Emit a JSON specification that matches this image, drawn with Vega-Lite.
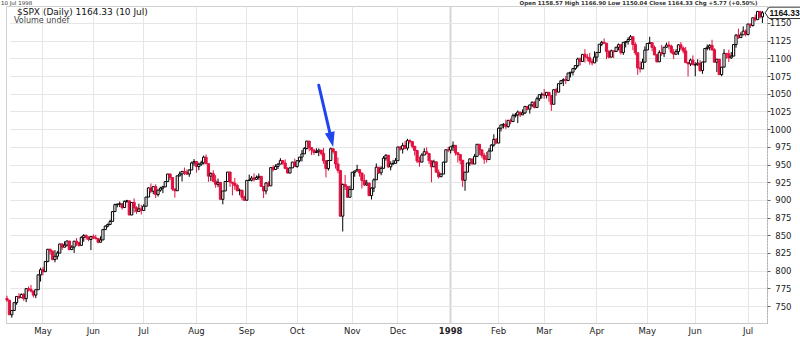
{
"$schema": "https://vega.github.io/schema/vega-lite/v6.json",
"width": 761, "height": 317,
"autosize": {"type": "none"},
"padding": {"left": 6, "top": 6, "right": 33, "bottom": 14},
"background": "white",
"config": {"view": {"stroke": "#d0d0d0"}, "font": "DejaVu Sans", "axis": {"labelOverlap": false}},
"data": {"values": [{}]},
"datasets": {"spx": [
{"d":"1997-04-10","o":760.6,"h":764.5,"l":756.0,"c":758.34},
{"d":"1997-04-11","o":758.3,"h":758.3,"l":737.2,"c":737.65},
{"d":"1997-04-14","o":737.6,"h":743.7,"l":733.5,"c":743.73},
{"d":"1997-04-15","o":743.7,"h":754.7,"l":743.7,"c":754.72},
{"d":"1997-04-16","o":754.7,"h":763.7,"l":751.8,"c":763.53},
{"d":"1997-04-17","o":763.5,"h":768.0,"l":759.8,"c":761.77},
{"d":"1997-04-18","o":761.8,"h":767.9,"l":761.8,"c":766.34},
{"d":"1997-04-21","o":766.3,"h":768.5,"l":757.4,"c":760.37},
{"d":"1997-04-22","o":760.4,"h":774.6,"l":755.4,"c":774.61},
{"d":"1997-04-23","o":774.6,"h":777.6,"l":770.6,"c":773.64},
{"d":"1997-04-24","o":773.6,"h":779.8,"l":769.1,"c":771.18},
{"d":"1997-04-25","o":771.2,"h":771.2,"l":762.0,"c":765.37},
{"d":"1997-04-28","o":765.4,"h":773.5,"l":761.1,"c":772.96},
{"d":"1997-04-29","o":773.0,"h":794.3,"l":773.0,"c":794.05},
{"d":"1997-04-30","o":794.1,"h":804.1,"l":784.5,"c":801.34},
{"d":"1997-05-01","o":801.3,"h":805.3,"l":793.2,"c":798.53},
{"d":"1997-05-02","o":798.5,"h":813.0,"l":798.5,"c":812.97},
{"d":"1997-05-05","o":813.0,"h":830.3,"l":811.8,"c":830.24},
{"d":"1997-05-06","o":830.2,"h":831.0,"l":822.5,"c":827.76},
{"d":"1997-05-07","o":827.8,"h":827.8,"l":814.7,"c":815.62},
{"d":"1997-05-08","o":815.6,"h":829.1,"l":811.8,"c":820.26},
{"d":"1997-05-09","o":820.3,"h":827.9,"l":815.8,"c":824.78},
{"d":"1997-05-12","o":824.8,"h":838.0,"l":824.8,"c":837.66},
{"d":"1997-05-13","o":837.7,"h":838.6,"l":829.3,"c":833.13},
{"d":"1997-05-14","o":833.1,"h":841.3,"l":833.1,"c":836.04},
{"d":"1997-05-15","o":836.0,"h":842.4,"l":834.0,"c":841.88},
{"d":"1997-05-16","o":841.9,"h":841.9,"l":828.9,"c":829.75},
{"d":"1997-05-19","o":829.8,"h":835.9,"l":829.8,"c":833.27},
{"d":"1997-05-20","o":833.3,"h":841.9,"l":825.0,"c":841.66},
{"d":"1997-05-21","o":841.7,"h":846.0,"l":834.9,"c":839.35},
{"d":"1997-05-22","o":839.4,"h":840.8,"l":833.9,"c":835.66},
{"d":"1997-05-23","o":835.7,"h":848.5,"l":835.7,"c":847.03},
{"d":"1997-05-27","o":847.0,"h":851.5,"l":840.9,"c":849.71},
{"d":"1997-05-28","o":849.7,"h":851.3,"l":843.7,"c":847.21},
{"d":"1997-05-29","o":847.2,"h":848.5,"l":841.7,"c":844.08},
{"d":"1997-05-30","o":844.1,"h":848.3,"l":829.1,"c":848.28},
{"d":"1997-06-02","o":848.3,"h":851.3,"l":844.6,"c":846.36},
{"d":"1997-06-03","o":846.4,"h":850.6,"l":844.0,"c":845.48},
{"d":"1997-06-04","o":845.5,"h":845.5,"l":838.6,"c":840.11},
{"d":"1997-06-05","o":840.1,"h":848.5,"l":840.1,"c":843.43},
{"d":"1997-06-06","o":843.4,"h":858.9,"l":843.4,"c":858.01},
{"d":"1997-06-09","o":858.0,"h":864.0,"l":858.0,"c":862.91},
{"d":"1997-06-10","o":862.9,"h":866.6,"l":861.0,"c":865.27},
{"d":"1997-06-11","o":865.3,"h":872.0,"l":864.5,"c":869.57},
{"d":"1997-06-12","o":869.6,"h":884.0,"l":869.6,"c":883.46},
{"d":"1997-06-13","o":883.5,"h":894.7,"l":883.5,"c":893.27},
{"d":"1997-06-16","o":893.3,"h":895.0,"l":889.5,"c":893.90},
{"d":"1997-06-17","o":893.9,"h":897.6,"l":889.8,"c":894.42},
{"d":"1997-06-18","o":894.4,"h":894.4,"l":886.2,"c":889.06},
{"d":"1997-06-19","o":889.1,"h":899.0,"l":889.1,"c":897.99},
{"d":"1997-06-20","o":898.0,"h":900.1,"l":895.8,"c":898.70},
{"d":"1997-06-23","o":898.7,"h":898.7,"l":878.4,"c":878.62},
{"d":"1997-06-24","o":878.6,"h":896.4,"l":878.6,"c":896.34},
{"d":"1997-06-25","o":896.3,"h":902.1,"l":882.0,"c":888.99},
{"d":"1997-06-26","o":889.0,"h":891.0,"l":880.2,"c":883.68},
{"d":"1997-06-27","o":883.7,"h":894.7,"l":883.7,"c":887.30},
{"d":"1997-06-30","o":887.3,"h":893.0,"l":879.3,"c":885.14},
{"d":"1997-07-01","o":885.1,"h":893.9,"l":884.2,"c":891.03},
{"d":"1997-07-02","o":891.0,"h":904.0,"l":891.0,"c":904.03},
{"d":"1997-07-03","o":904.0,"h":917.8,"l":904.0,"c":916.92},
{"d":"1997-07-07","o":916.9,"h":923.3,"l":909.6,"c":912.20},
{"d":"1997-07-08","o":912.2,"h":918.8,"l":908.0,"c":918.75},
{"d":"1997-07-09","o":918.8,"h":922.0,"l":902.5,"c":907.54},
{"d":"1997-07-10","o":907.5,"h":914.5,"l":904.7,"c":913.78},
{"d":"1997-07-11","o":913.8,"h":918.5,"l":911.6,"c":916.68},
{"d":"1997-07-14","o":916.7,"h":920.0,"l":909.5,"c":918.38},
{"d":"1997-07-15","o":918.4,"h":926.2,"l":918.4,"c":925.76},
{"d":"1997-07-16","o":925.8,"h":936.6,"l":925.8,"c":936.59},
{"d":"1997-07-17","o":936.6,"h":937.0,"l":927.9,"c":931.61},
{"d":"1997-07-18","o":931.6,"h":931.6,"l":912.9,"c":915.30},
{"d":"1997-07-21","o":915.3,"h":915.8,"l":903.2,"c":912.94},
{"d":"1997-07-22","o":912.9,"h":934.0,"l":912.9,"c":933.98},
{"d":"1997-07-23","o":934.0,"h":940.0,"l":933.2,"c":936.56},
{"d":"1997-07-24","o":936.6,"h":940.3,"l":926.1,"c":940.30},
{"d":"1997-07-25","o":940.3,"h":945.6,"l":935.2,"c":938.79},
{"d":"1997-07-28","o":938.8,"h":943.0,"l":935.2,"c":936.45},
{"d":"1997-07-29","o":936.5,"h":943.0,"l":932.6,"c":942.29},
{"d":"1997-07-30","o":942.3,"h":954.0,"l":942.3,"c":952.29},
{"d":"1997-07-31","o":952.3,"h":957.7,"l":948.1,"c":954.31},
{"d":"1997-08-01","o":954.3,"h":954.3,"l":938.4,"c":947.14},
{"d":"1997-08-04","o":947.1,"h":952.6,"l":942.0,"c":950.30},
{"d":"1997-08-05","o":950.3,"h":955.4,"l":948.1,"c":952.37},
{"d":"1997-08-06","o":952.4,"h":962.6,"l":950.0,"c":960.32},
{"d":"1997-08-07","o":960.3,"h":964.2,"l":950.6,"c":951.19},
{"d":"1997-08-08","o":951.2,"h":951.2,"l":925.6,"c":933.54},
{"d":"1997-08-11","o":933.5,"h":939.0,"l":926.5,"c":937.00},
{"d":"1997-08-12","o":937.0,"h":942.0,"l":924.8,"c":926.53},
{"d":"1997-08-13","o":926.5,"h":935.0,"l":917.1,"c":922.02},
{"d":"1997-08-14","o":922.0,"h":930.1,"l":918.0,"c":924.77},
{"d":"1997-08-15","o":924.8,"h":924.8,"l":900.8,"c":900.81},
{"d":"1997-08-18","o":900.8,"h":912.6,"l":893.7,"c":912.55},
{"d":"1997-08-19","o":912.6,"h":926.0,"l":912.6,"c":926.01},
{"d":"1997-08-20","o":926.0,"h":939.4,"l":926.0,"c":939.35},
{"d":"1997-08-21","o":939.4,"h":939.4,"l":918.5,"c":925.05},
{"d":"1997-08-22","o":925.1,"h":925.1,"l":906.3,"c":923.54},
{"d":"1997-08-25","o":923.5,"h":930.9,"l":914.2,"c":920.16},
{"d":"1997-08-26","o":920.2,"h":922.8,"l":912.0,"c":913.02},
{"d":"1997-08-27","o":913.0,"h":916.0,"l":906.6,"c":913.70},
{"d":"1997-08-28","o":913.7,"h":913.7,"l":899.5,"c":903.67},
{"d":"1997-08-29","o":903.7,"h":906.0,"l":898.5,"c":899.47},
{"d":"1997-09-02","o":899.5,"h":927.6,"l":899.5,"c":927.58},
{"d":"1997-09-03","o":927.6,"h":935.8,"l":926.6,"c":927.86},
{"d":"1997-09-04","o":927.9,"h":933.7,"l":926.0,"c":930.87},
{"d":"1997-09-05","o":930.9,"h":937.5,"l":925.9,"c":929.05},
{"d":"1997-09-08","o":929.1,"h":934.5,"l":928.2,"c":931.66},
{"d":"1997-09-09","o":931.7,"h":937.3,"l":928.4,"c":933.25},
{"d":"1997-09-10","o":933.3,"h":933.3,"l":918.7,"c":919.03},
{"d":"1997-09-11","o":919.0,"h":919.0,"l":902.6,"c":912.59},
{"d":"1997-09-12","o":912.6,"h":924.9,"l":907.9,"c":923.91},
{"d":"1997-09-15","o":923.9,"h":926.3,"l":918.3,"c":919.77},
{"d":"1997-09-16","o":919.8,"h":945.7,"l":919.8,"c":945.64},
{"d":"1997-09-17","o":945.6,"h":948.9,"l":940.2,"c":943.00},
{"d":"1997-09-18","o":943.0,"h":950.4,"l":943.0,"c":947.29},
{"d":"1997-09-19","o":947.3,"h":951.9,"l":943.5,"c":950.51},
{"d":"1997-09-22","o":950.5,"h":958.9,"l":950.5,"c":955.43},
{"d":"1997-09-23","o":955.4,"h":956.5,"l":949.5,"c":951.93},
{"d":"1997-09-24","o":951.9,"h":957.2,"l":943.4,"c":944.48},
{"d":"1997-09-25","o":944.5,"h":946.2,"l":937.6,"c":937.91},
{"d":"1997-09-26","o":937.9,"h":946.1,"l":937.9,"c":945.22},
{"d":"1997-09-29","o":945.2,"h":953.9,"l":945.2,"c":953.34},
{"d":"1997-09-30","o":953.3,"h":958.3,"l":947.1,"c":947.28},
{"d":"1997-10-01","o":947.3,"h":956.0,"l":945.4,"c":955.41},
{"d":"1997-10-02","o":955.4,"h":960.5,"l":952.9,"c":960.46},
{"d":"1997-10-03","o":960.5,"h":970.4,"l":954.2,"c":965.03},
{"d":"1997-10-06","o":965.0,"h":974.5,"l":965.0,"c":972.69},
{"d":"1997-10-07","o":972.7,"h":983.1,"l":971.2,"c":983.12},
{"d":"1997-10-08","o":983.1,"h":983.1,"l":968.6,"c":973.84},
{"d":"1997-10-09","o":973.8,"h":974.4,"l":963.5,"c":970.62},
{"d":"1997-10-10","o":970.6,"h":970.6,"l":963.4,"c":966.98},
{"d":"1997-10-13","o":967.0,"h":973.0,"l":966.0,"c":968.10},
{"d":"1997-10-14","o":968.1,"h":972.6,"l":961.8,"c":970.28},
{"d":"1997-10-15","o":970.3,"h":970.3,"l":962.8,"c":965.72},
{"d":"1997-10-16","o":965.7,"h":973.4,"l":950.9,"c":955.25},
{"d":"1997-10-17","o":955.3,"h":955.3,"l":931.8,"c":944.16},
{"d":"1997-10-20","o":944.2,"h":955.7,"l":941.4,"c":955.61},
{"d":"1997-10-21","o":955.6,"h":973.9,"l":955.6,"c":972.28},
{"d":"1997-10-22","o":972.3,"h":972.3,"l":965.2,"c":968.49},
{"d":"1997-10-23","o":968.5,"h":968.5,"l":944.2,"c":950.69},
{"d":"1997-10-24","o":950.7,"h":960.0,"l":937.6,"c":941.64},
{"d":"1997-10-27","o":941.6,"h":941.6,"l":876.7,"c":876.99},
{"d":"1997-10-28","o":877.0,"h":923.1,"l":855.3,"c":921.85},
{"d":"1997-10-29","o":921.9,"h":935.2,"l":913.9,"c":919.16},
{"d":"1997-10-30","o":919.2,"h":919.2,"l":903.1,"c":903.68},
{"d":"1997-10-31","o":903.7,"h":919.9,"l":903.7,"c":914.62},
{"d":"1997-11-03","o":914.6,"h":939.0,"l":914.6,"c":938.99},
{"d":"1997-11-04","o":939.0,"h":941.4,"l":932.7,"c":940.76},
{"d":"1997-11-05","o":940.8,"h":949.6,"l":940.8,"c":942.76},
{"d":"1997-11-06","o":942.8,"h":942.9,"l":932.9,"c":938.03},
{"d":"1997-11-07","o":938.0,"h":938.0,"l":916.1,"c":927.51},
{"d":"1997-11-10","o":927.5,"h":935.9,"l":919.5,"c":921.13},
{"d":"1997-11-11","o":921.1,"h":928.3,"l":919.6,"c":923.78},
{"d":"1997-11-12","o":923.8,"h":923.9,"l":905.3,"c":905.96},
{"d":"1997-11-13","o":906.0,"h":917.8,"l":900.6,"c":916.66},
{"d":"1997-11-14","o":916.7,"h":930.4,"l":911.0,"c":928.35},
{"d":"1997-11-17","o":928.4,"h":951.5,"l":928.4,"c":946.20},
{"d":"1997-11-18","o":946.2,"h":946.2,"l":936.6,"c":938.23},
{"d":"1997-11-19","o":938.2,"h":947.3,"l":934.8,"c":944.59},
{"d":"1997-11-20","o":944.6,"h":961.8,"l":944.6,"c":958.98},
{"d":"1997-11-21","o":959.0,"h":964.6,"l":955.4,"c":963.09},
{"d":"1997-11-24","o":963.1,"h":963.1,"l":945.2,"c":946.67},
{"d":"1997-11-25","o":946.7,"h":954.5,"l":941.7,"c":950.82},
{"d":"1997-11-26","o":950.8,"h":956.5,"l":949.6,"c":951.64},
{"d":"1997-11-28","o":951.6,"h":959.1,"l":951.6,"c":955.40},
{"d":"1997-12-01","o":955.4,"h":974.8,"l":955.4,"c":974.77},
{"d":"1997-12-02","o":974.8,"h":976.2,"l":969.8,"c":971.68},
{"d":"1997-12-03","o":971.7,"h":980.8,"l":965.4,"c":976.77},
{"d":"1997-12-04","o":976.8,"h":983.4,"l":971.4,"c":973.10},
{"d":"1997-12-05","o":973.1,"h":986.3,"l":969.9,"c":983.79},
{"d":"1997-12-08","o":983.8,"h":985.7,"l":979.6,"c":982.37},
{"d":"1997-12-09","o":982.4,"h":982.4,"l":972.8,"c":975.78},
{"d":"1997-12-10","o":975.8,"h":975.8,"l":962.7,"c":969.79},
{"d":"1997-12-11","o":969.8,"h":969.8,"l":951.9,"c":954.94},
{"d":"1997-12-12","o":954.9,"h":961.3,"l":947.0,"c":953.39},
{"d":"1997-12-15","o":953.4,"h":965.9,"l":953.4,"c":963.39},
{"d":"1997-12-16","o":963.4,"h":973.0,"l":963.4,"c":968.04},
{"d":"1997-12-17","o":968.0,"h":974.3,"l":964.3,"c":965.54},
{"d":"1997-12-18","o":965.5,"h":965.5,"l":950.6,"c":955.30},
{"d":"1997-12-19","o":955.3,"h":955.3,"l":924.9,"c":946.78},
{"d":"1997-12-22","o":946.8,"h":956.7,"l":946.3,"c":953.70},
{"d":"1997-12-23","o":953.7,"h":954.5,"l":938.9,"c":939.13},
{"d":"1997-12-24","o":939.1,"h":942.9,"l":930.2,"c":932.70},
{"d":"1997-12-26","o":932.7,"h":937.5,"l":932.7,"c":936.46},
{"d":"1997-12-29","o":936.5,"h":953.9,"l":936.5,"c":953.35},
{"d":"1997-12-30","o":953.4,"h":970.8,"l":953.4,"c":970.84},
{"d":"1997-12-31","o":970.8,"h":975.0,"l":967.4,"c":970.43},
{"d":"1998-01-02","o":970.4,"h":975.0,"l":965.7,"c":975.04},
{"d":"1998-01-05","o":975.0,"h":982.6,"l":969.0,"c":977.07},
{"d":"1998-01-06","o":977.1,"h":977.1,"l":962.7,"c":966.58},
{"d":"1998-01-07","o":966.6,"h":966.6,"l":952.7,"c":964.00},
{"d":"1998-01-08","o":964.0,"h":964.0,"l":950.3,"c":956.05},
{"d":"1998-01-09","o":956.0,"h":956.0,"l":918.2,"c":927.69},
{"d":"1998-01-12","o":927.7,"h":939.3,"l":912.8,"c":939.21},
{"d":"1998-01-13","o":939.2,"h":952.2,"l":939.2,"c":952.12},
{"d":"1998-01-14","o":952.1,"h":958.0,"l":948.0,"c":957.94},
{"d":"1998-01-15","o":957.9,"h":957.9,"l":950.0,"c":950.73},
{"d":"1998-01-16","o":950.7,"h":965.0,"l":950.7,"c":961.51},
{"d":"1998-01-20","o":961.5,"h":978.6,"l":961.5,"c":978.60},
{"d":"1998-01-21","o":978.6,"h":978.6,"l":963.3,"c":970.81},
{"d":"1998-01-22","o":970.8,"h":970.8,"l":959.5,"c":963.04},
{"d":"1998-01-23","o":963.0,"h":966.4,"l":950.9,"c":957.59},
{"d":"1998-01-26","o":957.6,"h":967.7,"l":952.7,"c":956.95},
{"d":"1998-01-27","o":957.0,"h":973.1,"l":957.0,"c":969.02},
{"d":"1998-01-28","o":969.0,"h":978.6,"l":969.0,"c":977.46},
{"d":"1998-01-29","o":977.5,"h":992.7,"l":975.2,"c":985.49},
{"d":"1998-01-30","o":985.5,"h":987.4,"l":979.4,"c":980.28},
{"d":"1998-02-02","o":980.3,"h":1002.5,"l":980.3,"c":1001.27},
{"d":"1998-02-03","o":1001.3,"h":1006.1,"l":996.6,"c":1006.00},
{"d":"1998-02-04","o":1006.0,"h":1008.4,"l":1000.9,"c":1006.90},
{"d":"1998-02-05","o":1006.9,"h":1013.5,"l":1000.3,"c":1003.54},
{"d":"1998-02-06","o":1003.5,"h":1012.5,"l":1002.0,"c":1012.46},
{"d":"1998-02-09","o":1012.5,"h":1015.0,"l":1006.9,"c":1010.74},
{"d":"1998-02-10","o":1010.7,"h":1022.0,"l":1010.7,"c":1019.01},
{"d":"1998-02-11","o":1019.0,"h":1022.8,"l":1016.4,"c":1020.01},
{"d":"1998-02-12","o":1020.0,"h":1026.3,"l":1008.6,"c":1024.14},
{"d":"1998-02-13","o":1024.1,"h":1024.1,"l":1017.1,"c":1020.09},
{"d":"1998-02-17","o":1020.1,"h":1028.0,"l":1020.1,"c":1022.76},
{"d":"1998-02-18","o":1022.8,"h":1032.1,"l":1021.7,"c":1032.08},
{"d":"1998-02-19","o":1032.1,"h":1032.6,"l":1026.5,"c":1028.28},
{"d":"1998-02-20","o":1028.3,"h":1034.2,"l":1021.9,"c":1034.21},
{"d":"1998-02-23","o":1034.2,"h":1038.7,"l":1031.0,"c":1038.14},
{"d":"1998-02-24","o":1038.1,"h":1039.3,"l":1029.2,"c":1030.56},
{"d":"1998-02-25","o":1030.6,"h":1045.8,"l":1030.6,"c":1042.90},
{"d":"1998-02-26","o":1042.9,"h":1048.8,"l":1039.7,"c":1048.67},
{"d":"1998-02-27","o":1048.7,"h":1051.7,"l":1043.1,"c":1049.34},
{"d":"1998-03-02","o":1049.3,"h":1056.7,"l":1042.8,"c":1047.70},
{"d":"1998-03-03","o":1047.7,"h":1052.0,"l":1043.4,"c":1052.02},
{"d":"1998-03-04","o":1052.0,"h":1052.0,"l":1038.6,"c":1047.33},
{"d":"1998-03-05","o":1047.3,"h":1047.3,"l":1025.8,"c":1035.05},
{"d":"1998-03-06","o":1035.1,"h":1055.7,"l":1035.1,"c":1055.69},
{"d":"1998-03-09","o":1055.7,"h":1058.5,"l":1047.2,"c":1052.31},
{"d":"1998-03-10","o":1052.3,"h":1064.6,"l":1052.3,"c":1064.25},
{"d":"1998-03-11","o":1064.3,"h":1069.2,"l":1064.3,"c":1068.47},
{"d":"1998-03-12","o":1068.5,"h":1071.9,"l":1060.9,"c":1069.92},
{"d":"1998-03-13","o":1069.9,"h":1075.3,"l":1063.8,"c":1068.61},
{"d":"1998-03-16","o":1068.6,"h":1079.5,"l":1068.6,"c":1079.27},
{"d":"1998-03-17","o":1079.3,"h":1080.5,"l":1073.0,"c":1080.45},
{"d":"1998-03-18","o":1080.5,"h":1085.5,"l":1075.7,"c":1085.52},
{"d":"1998-03-19","o":1085.5,"h":1089.9,"l":1083.5,"c":1089.74},
{"d":"1998-03-20","o":1089.7,"h":1101.0,"l":1087.0,"c":1099.16},
{"d":"1998-03-23","o":1099.2,"h":1101.2,"l":1089.8,"c":1095.55},
{"d":"1998-03-24","o":1095.6,"h":1106.0,"l":1095.6,"c":1105.65},
{"d":"1998-03-25","o":1105.7,"h":1113.1,"l":1094.0,"c":1101.93},
{"d":"1998-03-26","o":1101.9,"h":1106.2,"l":1096.0,"c":1100.80},
{"d":"1998-03-27","o":1100.8,"h":1107.7,"l":1091.0,"c":1095.44},
{"d":"1998-03-30","o":1095.4,"h":1099.1,"l":1090.0,"c":1093.60},
{"d":"1998-03-31","o":1093.6,"h":1110.0,"l":1093.6,"c":1101.75},
{"d":"1998-04-01","o":1101.8,"h":1109.2,"l":1095.3,"c":1108.15},
{"d":"1998-04-02","o":1108.2,"h":1120.0,"l":1108.2,"c":1120.01},
{"d":"1998-04-03","o":1120.0,"h":1124.8,"l":1117.3,"c":1122.70},
{"d":"1998-04-06","o":1122.7,"h":1128.2,"l":1121.0,"c":1121.38},
{"d":"1998-04-07","o":1121.4,"h":1121.4,"l":1098.9,"c":1109.55},
{"d":"1998-04-08","o":1109.6,"h":1111.9,"l":1100.0,"c":1101.65},
{"d":"1998-04-09","o":1101.7,"h":1112.4,"l":1101.7,"c":1110.67},
{"d":"1998-04-13","o":1110.7,"h":1110.7,"l":1100.5,"c":1109.69},
{"d":"1998-04-14","o":1109.7,"h":1115.9,"l":1109.0,"c":1115.75},
{"d":"1998-04-15","o":1115.8,"h":1121.0,"l":1111.3,"c":1119.32},
{"d":"1998-04-16","o":1119.3,"h":1119.3,"l":1105.3,"c":1108.17},
{"d":"1998-04-17","o":1108.2,"h":1122.7,"l":1104.9,"c":1122.72},
{"d":"1998-04-20","o":1122.7,"h":1124.6,"l":1115.4,"c":1123.65},
{"d":"1998-04-21","o":1123.7,"h":1129.7,"l":1119.4,"c":1126.67},
{"d":"1998-04-22","o":1126.7,"h":1133.0,"l":1126.3,"c":1130.54},
{"d":"1998-04-23","o":1130.5,"h":1130.5,"l":1111.7,"c":1119.58},
{"d":"1998-04-24","o":1119.6,"h":1122.8,"l":1104.4,"c":1107.90},
{"d":"1998-04-27","o":1107.9,"h":1107.9,"l":1076.7,"c":1086.54},
{"d":"1998-04-28","o":1086.5,"h":1095.9,"l":1080.0,"c":1085.11},
{"d":"1998-04-29","o":1085.1,"h":1099.3,"l":1085.1,"c":1094.63},
{"d":"1998-04-30","o":1094.6,"h":1116.9,"l":1094.6,"c":1111.75},
{"d":"1998-05-01","o":1111.8,"h":1121.0,"l":1111.8,"c":1121.00},
{"d":"1998-05-04","o":1121.0,"h":1130.5,"l":1121.0,"c":1122.07},
{"d":"1998-05-05","o":1122.1,"h":1122.1,"l":1110.2,"c":1115.50},
{"d":"1998-05-06","o":1115.5,"h":1118.1,"l":1104.6,"c":1104.92},
{"d":"1998-05-07","o":1104.9,"h":1106.4,"l":1094.3,"c":1095.14},
{"d":"1998-05-08","o":1095.1,"h":1111.4,"l":1095.1,"c":1108.14},
{"d":"1998-05-11","o":1108.1,"h":1119.1,"l":1103.7,"c":1106.64},
{"d":"1998-05-12","o":1106.6,"h":1116.0,"l":1101.8,"c":1115.79},
{"d":"1998-05-13","o":1115.8,"h":1122.2,"l":1114.9,"c":1118.86},
{"d":"1998-05-14","o":1118.9,"h":1124.0,"l":1112.9,"c":1117.37},
{"d":"1998-05-15","o":1117.4,"h":1119.4,"l":1106.6,"c":1108.73},
{"d":"1998-05-18","o":1108.7,"h":1113.0,"l":1098.9,"c":1105.82},
{"d":"1998-05-19","o":1105.8,"h":1113.0,"l":1105.8,"c":1109.52},
{"d":"1998-05-20","o":1109.5,"h":1120.1,"l":1105.0,"c":1119.06},
{"d":"1998-05-21","o":1119.1,"h":1123.0,"l":1111.8,"c":1114.64},
{"d":"1998-05-22","o":1114.6,"h":1116.9,"l":1107.0,"c":1110.47},
{"d":"1998-05-26","o":1110.5,"h":1116.0,"l":1093.9,"c":1094.02},
{"d":"1998-05-27","o":1094.0,"h":1094.0,"l":1074.4,"c":1092.23},
{"d":"1998-05-28","o":1092.2,"h":1099.7,"l":1089.1,"c":1097.60},
{"d":"1998-05-29","o":1097.6,"h":1104.2,"l":1090.8,"c":1090.82},
{"d":"1998-06-01","o":1090.8,"h":1094.4,"l":1074.7,"c":1090.98},
{"d":"1998-06-02","o":1091.0,"h":1098.7,"l":1089.7,"c":1093.22},
{"d":"1998-06-03","o":1093.2,"h":1097.4,"l":1081.1,"c":1082.73},
{"d":"1998-06-04","o":1082.7,"h":1095.0,"l":1078.1,"c":1094.83},
{"d":"1998-06-05","o":1094.8,"h":1113.9,"l":1094.8,"c":1113.86},
{"d":"1998-06-08","o":1113.9,"h":1119.7,"l":1111.3,"c":1115.72},
{"d":"1998-06-09","o":1115.7,"h":1119.9,"l":1111.3,"c":1118.41},
{"d":"1998-06-10","o":1118.4,"h":1126.3,"l":1110.3,"c":1112.28},
{"d":"1998-06-11","o":1112.3,"h":1114.2,"l":1094.3,"c":1094.58},
{"d":"1998-06-12","o":1094.6,"h":1098.8,"l":1080.8,"c":1098.84},
{"d":"1998-06-15","o":1098.8,"h":1098.8,"l":1077.0,"c":1077.01},
{"d":"1998-06-16","o":1077.0,"h":1088.0,"l":1074.9,"c":1087.59},
{"d":"1998-06-17","o":1087.6,"h":1112.9,"l":1087.6,"c":1107.11},
{"d":"1998-06-18","o":1107.1,"h":1107.1,"l":1099.4,"c":1106.37},
{"d":"1998-06-19","o":1106.4,"h":1112.3,"l":1094.7,"c":1100.65},
{"d":"1998-06-22","o":1100.7,"h":1109.0,"l":1099.4,"c":1103.21},
{"d":"1998-06-23","o":1103.2,"h":1119.9,"l":1103.2,"c":1119.49},
{"d":"1998-06-24","o":1119.5,"h":1134.4,"l":1115.1,"c":1132.88},
{"d":"1998-06-25","o":1132.9,"h":1142.0,"l":1127.6,"c":1129.28},
{"d":"1998-06-26","o":1129.3,"h":1136.8,"l":1129.3,"c":1133.20},
{"d":"1998-06-29","o":1133.2,"h":1145.2,"l":1133.2,"c":1138.49},
{"d":"1998-06-30","o":1138.5,"h":1140.8,"l":1131.0,"c":1133.84},
{"d":"1998-07-01","o":1133.8,"h":1148.6,"l":1132.5,"c":1148.56},
{"d":"1998-07-02","o":1148.6,"h":1148.6,"l":1143.0,"c":1146.42},
{"d":"1998-07-06","o":1146.4,"h":1157.3,"l":1145.0,"c":1157.33},
{"d":"1998-07-07","o":1157.3,"h":1161.8,"l":1152.2,"c":1154.66},
{"d":"1998-07-08","o":1154.7,"h":1166.4,"l":1154.7,"c":1166.38},
{"d":"1998-07-09","o":1166.4,"h":1166.4,"l":1156.4,"c":1158.56},
{"d":"1998-07-10","o":1158.6,"h":1167.0,"l":1150.0,"c":1164.33}
]},
"layer": [
{
"data": {"name": "spx"},
"transform": [{"window": [{"op": "lag", "field": "c", "as": "pc"}], "sort": [{"field": "d"}]}],
"encoding": {
  "x": {"field": "d", "type": "ordinal",
    "scale": {"type": "band", "paddingInner": 0, "paddingOuter": 0, "range": [-0.2, 757.6]},
    "axis": {"values": ["1997-05-01","1997-06-02","1997-07-01","1997-08-01","1997-09-02","1997-10-01","1997-11-03","1997-12-01","1998-01-02","1998-02-02","1998-03-02","1998-04-01","1998-05-01","1998-06-01","1998-07-01"],
      "labelExpr": "datum.value == '1998-01-02' ? '1998' : utcFormat(toDate(datum.value), '%b')",
      "bandPosition": 0.5, "grid": true,
      "gridColor": {"condition": {"test": "datum.value == '1998-01-02'", "value": "#d6d6d6"}, "value": "#e6e6e6"},
      "gridWidth": {"condition": {"test": "datum.value == '1998-01-02'", "value": 2}, "value": 1},
      "labelFontWeight": {"condition": {"test": "datum.value == '1998-01-02'", "value": "bold"}, "value": "normal"},
      "ticks": false, "domainColor": "#c8c8c8", "labelFontSize": 8.5, "labelColor": "#222", "labelPadding": 3, "labelAngle": 0, "labelOverlap": false, "title": null}},
  "y": {"field": "l", "type": "quantitative",
       "scale": {"domain": [726, 1174], "zero": false, "nice": false},
       "axis": {"orient": "right", "values": [750,775,800,825,850,875,900,925,950,975,1000,1025,1050,1075,1100,1125,1150],
         "tickCount": 40, "format": "d", "labelOverlap": false,
         "labelAlign": "right", "labelPadding": 21, "tickSize": 3, "tickColor": "#666", "domainDash": [1,2], "domainColor": "#999",
         "grid": true, "gridColor": "#e6e6e6", "labelFontSize": 8.5, "labelColor": "#222", "title": null}}
},
"layer": [
  {"mark": {"type": "rule", "strokeWidth": 1},
   "encoding": {
     "y2": {"field": "h"},
     "stroke": {"condition": {"test": "datum.c < (datum.pc == null ? datum.o : datum.pc)", "value": "#e3103f"}, "value": "#000000"}
   }},
  {"mark": {"type": "bar", "size": 2.2, "strokeWidth": 1},
   "encoding": {
     "y": {"field": "o", "type": "quantitative", "scale": {"domain": [726, 1174], "zero": false, "nice": false},
       "axis": {"orient": "right", "values": [750,775,800,825,850,875,900,925,950,975,1000,1025,1050,1075,1100,1125,1150],
         "tickCount": 40, "format": "d", "labelOverlap": false,
         "labelAlign": "right", "labelPadding": 21, "tickSize": 3, "tickColor": "#666", "domainDash": [1,2], "domainColor": "#999",
         "grid": true, "gridColor": "#e6e6e6", "labelFontSize": 8.5, "labelColor": "#222", "title": null}},
     "y2": {"field": "c"},
     "stroke": {"condition": {"test": "datum.c < (datum.pc == null ? datum.o : datum.pc)", "value": "#e3103f"}, "value": "#000000"},
     "fill": {"condition": [{"test": "datum.c > datum.o", "value": "#ffffff"}, {"test": "datum.c < (datum.pc == null ? datum.o : datum.pc)", "value": "#e3103f"}], "value": "#000000"}
   }}
]
},
{"mark": {"type": "rule", "stroke": "#1f45f0", "strokeWidth": 3, "strokeCap": "round"},
 "encoding": {"x": {"datum": "1997-10-14", "type": "ordinal"}, "x2": {"datum": "1997-10-21"},
   "y": {"datum": 1062, "type": "quantitative"}, "y2": {"datum": 989.4}}},
{"mark": {"type": "point", "shape": "M0,0L-1,-3L1,-3Z", "size": 100, "filled": true, "color": "#1f45f0", "opacity": 1, "angle": -12.9},
 "encoding": {"x": {"datum": "1997-10-22", "type": "ordinal"},
   "y": {"datum": 974.6, "type": "quantitative"}}},
{"mark": {"type": "text", "text": "$SPX (Daily) 1164.33 (10 Jul)", "align": "left", "baseline": "middle", "fontSize": 9, "color": "#111", "dx": 10},
 "encoding": {"x": {"datum": "1997-04-10", "type": "ordinal"},
   "y": {"datum": 1165.5, "type": "quantitative"}}},
{"mark": {"type": "text", "text": "Volume undef", "align": "left", "baseline": "middle", "fontSize": 8, "color": "#444", "dx": 7},
 "encoding": {"x": {"datum": "1997-04-10", "type": "ordinal"},
   "y": {"datum": 1153.5, "type": "quantitative"}}},
{"mark": {"type": "text", "text": "10 Jul 1998", "align": "left", "baseline": "alphabetic", "fontSize": 5.5, "color": "#333", "dx": -6},
 "encoding": {"x": {"datum": "1997-04-10", "type": "ordinal"},
   "y": {"datum": 1175.3, "type": "quantitative"}}},
{"mark": {"type": "text", "text": "Open 1158.57  High 1166.90  Low 1150.04  Close 1164.33  Chg +5.77 (+0.50%)", "align": "right", "baseline": "alphabetic", "fontSize": 5.5, "fontWeight": "bold", "color": "#333", "dx": -5},
 "encoding": {"x": {"datum": "1998-07-10", "type": "ordinal"},
   "y": {"datum": 1175.3, "type": "quantitative"}}},
{"mark": {"type": "point", "shape": "M0.45,0L1.1,-0.95L7,-0.95L7,0.95L1.1,0.95Z", "size": 144, "filled": true, "fill": "#ffffff", "stroke": "#333333", "strokeWidth": 1, "opacity": 1},
 "encoding": {"x": {"datum": "1998-07-10", "type": "ordinal"},
   "y": {"datum": 1164.33, "type": "quantitative"}}},
{"mark": {"type": "text", "text": "1164.33", "align": "left", "baseline": "middle", "font": "Liberation Sans", "fontSize": 8.5, "fontWeight": "bold", "color": "#111", "dx": 7},
 "encoding": {"x": {"datum": "1998-07-10", "type": "ordinal"},
   "y": {"datum": 1164.33, "type": "quantitative"}}}
]
}
